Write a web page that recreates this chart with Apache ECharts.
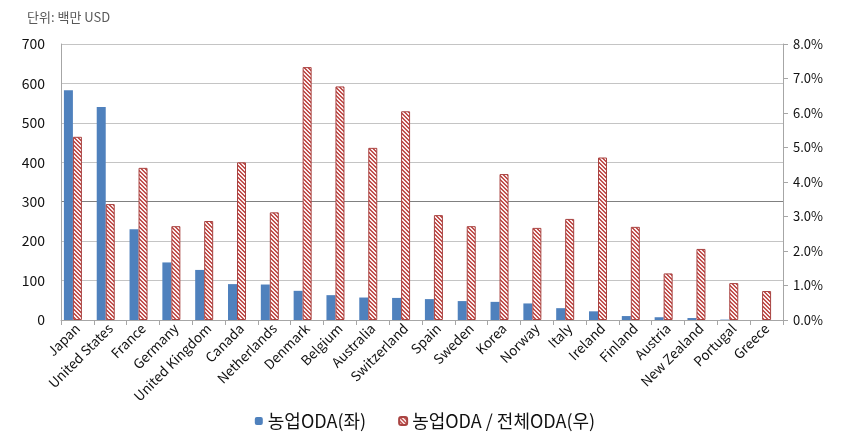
<!DOCTYPE html>
<html><head><meta charset="utf-8">
<script src="https://cdn.jsdelivr.net/npm/echarts@6/dist/echarts.min.js"></script>
<style>html,body{margin:0;padding:0;background:#fff}#c{width:850px;height:441px}</style>
</head><body><div id="c"></div>
<script>
const categories = ['Japan','United States','France','Germany','United Kingdom','Canada','Netherlands','Denmark','Belgium','Australia','Switzerland','Spain','Sweden','Korea','Norway','Italy','Ireland','Finland','Austria','New Zealand','Portugal','Greece'];
const agriODA = [583,540,230,146,127,91,90,74,63,57,56,53,48,46,42,30,22,10,7,5,1,0];
const agriShare = [5.31,3.36,4.41,2.72,2.87,4.57,3.12,7.33,6.77,4.99,6.05,3.04,2.72,4.23,2.67,2.93,4.71,2.70,1.35,2.06,1.07,0.84];
const leftTicks = {min:0,max:700,interval:100};
const rightTicks = {min:0,max:8,interval:1};
const name1 = '농업ODA(좌)';
const name2 = '농업ODA / 전체ODA(우)';

const cv = document.createElement('canvas');
cv.width = 4; cv.height = 4;
const cx = cv.getContext('2d');
cx.fillStyle = '#fbeeee'; cx.fillRect(0,0,4,4);
cx.fillStyle = '#c0504d';
for (let y=0;y<4;y++) for (let x=0;x<4;x++) { const d=((x-y)%4+4)%4; if (d===0||d===1) cx.fillRect(x,y,1,1); }

const font = "'Noto Sans CJK KR', 'Noto Sans', sans-serif";
const chart = echarts.init(document.getElementById('c'));
chart.setOption({
  animation:false,
  textStyle:{fontFamily:font},
  title:{text:'단위: 백만 USD',left:22,top:6,textStyle:{fontSize:13,fontWeight:'normal',color:'#595959',fontFamily:font}},
  legend:{bottom:6,left:'center',data:[name1,name2],itemWidth:8,itemHeight:8,itemGap:32,
    textStyle:{fontSize:18,color:'#111',fontFamily:font}},
  grid:{left:61,right:67,top:44,bottom:121},
  xAxis:{type:'category',data:categories,boundaryGap:true,
    axisLine:{lineStyle:{color:'#a6a6a6'}},
    axisTick:{show:true,alignWithLabel:false,length:5,lineStyle:{color:'#a6a6a6'}},
    axisLabel:{rotate:45,fontSize:13.5,color:'#111',margin:6,interval:0,fontFamily:font}},
  yAxis:[
    {type:'value',min:leftTicks.min,max:leftTicks.max,interval:leftTicks.interval,
     axisLine:{show:true,lineStyle:{color:'#a6a6a6'}},axisTick:{show:false},
     axisLabel:{fontSize:14,color:'#111',margin:16,fontFamily:font},
     splitLine:{show:true,lineStyle:{color:['#c4c4c4','#c4c4c4','#c4c4c4','#808080','#c4c4c4','#c4c4c4','#c4c4c4','#c4c4c4']}}},
    {type:'value',min:rightTicks.min,max:rightTicks.max,interval:rightTicks.interval,position:'right',
     axisLine:{show:true,lineStyle:{color:'#a6a6a6'}},axisTick:{show:true,length:5,lineStyle:{color:'#a6a6a6'}},
     axisLabel:{fontSize:13,color:'#111',margin:10,formatter:v=>v.toFixed(1)+'%',fontFamily:font},
     splitLine:{show:false}}
  ],
  series:[
    {name:name1,type:'bar',yAxisIndex:0,data:agriODA,barWidth:9,barGap:'0%',itemStyle:{color:'#4f81bd'}},
    {name:name2,type:'bar',yAxisIndex:1,data:agriShare,barWidth:9,barGap:'0%',
     itemStyle:{color:{image:cv,repeat:'repeat'},borderColor:'#a94442',borderWidth:1}},
    {name:'_pad',type:'bar',yAxisIndex:0,data:[],barWidth:9,barGap:'0%'}
  ]
});
</script></body></html>
